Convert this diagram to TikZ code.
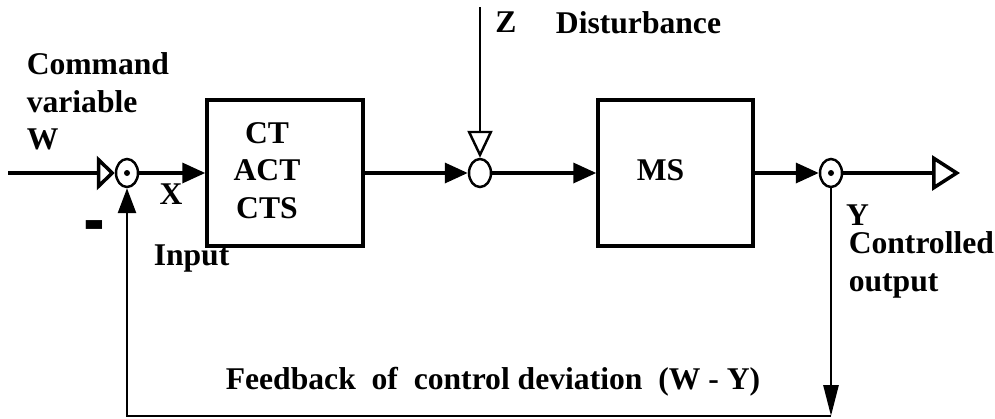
\documentclass[tikz,border=0pt]{standalone}
\usepackage{fontspec}
\setmainfont{Liberation Serif}
\usetikzlibrary{arrows.meta,shapes.geometric}

\begin{document}
\begin{tikzpicture}[x=0.02cm, y=-0.02cm, line width=2pt,
  every node/.style={font=\fontsize{18}{21.3}\selectfont\bfseries, inner sep=0pt},
  block/.style={draw, minimum width=3.12cm, minimum height=2.92cm},
  junction/.style={draw, ellipse, line width=1.4pt, minimum width=0.44cm, minimum height=0.56cm},
  flow/.style={-{Triangle[length=0.46cm, width=0.4cm]}}]
\useasboundingbox (0,0) rectangle (995,419);
% summing points and blocks on the main line
\node[junction] (sumW) at (127,173) {};
\node[junction] (sumZ) at (480,173) {};
\node[junction] (sumY) at (831,173) {};
\fill (sumW) circle[radius=3];
\fill (sumY) circle[radius=3];
\node[block] (ctrl) at (285,173) {};
\node[align=center] (ctrlTxt) at (267,170.5) {CT\\ACT\\CTS};
\node[block, minimum width=3.1cm] (plant) at (675.5,173) {};
\node (plantTxt) at (660.5,170) {MS};
\foreach \a/\b in {sumW/ctrl, ctrl/sumZ, sumZ/plant, plant/sumY}
  {\draw[flow] (\a) -- (\b);}
% input, disturbance, output
\coordinate (inW) at (8,173);
\coordinate (inZ) at (480,7);
\coordinate (outY) at (960,173);
\draw[-{Triangle[open, length=0.36cm, width=0.68cm]}] (inW) -- (sumW);
\draw[line width=1.4pt, -{Triangle[open, length=0.54cm, width=0.5cm]}] (inZ) -- (sumZ);
\draw[-{Triangle[open, length=0.56cm, width=0.7cm]}] (sumY) -- (outY);
% feedback loop
\coordinate (fbR) at (831,416);
\coordinate (fbL) at (127,416);
\draw[line width=1.6pt, -{Triangle[length=0.62cm, width=0.3cm]}] (sumY) -- (fbR);
\draw[line width=1.6pt, -{Triangle[length=0.5cm, width=0.36cm]}] (fbR) -- (fbL) -- (sumW);
% labels
\node[align=left, anchor=west] (cmdW) at (25,101.5) {Command\\variable\\W};
\node (lblX) at (171,194) {X};
\node (minus) at (94.5,238) {\scalebox{1}[4]{--}};
\node[anchor=base west] (lblIn) at (152,265) {Input};
\node (lblZ) at (506,22.5) {Z};
\node (lblDist) at (638.5,22.5) {Disturbance};
\node (lblY) at (857.5,215) {Y};
\node[align=left, anchor=west] (lblOut) at (847,265) {Controlled\\output};
\node[anchor=base] (lblFb) at (493,389) {Feedback~ of~ control deviation~ (W - Y)};
\end{tikzpicture}
\end{document}
